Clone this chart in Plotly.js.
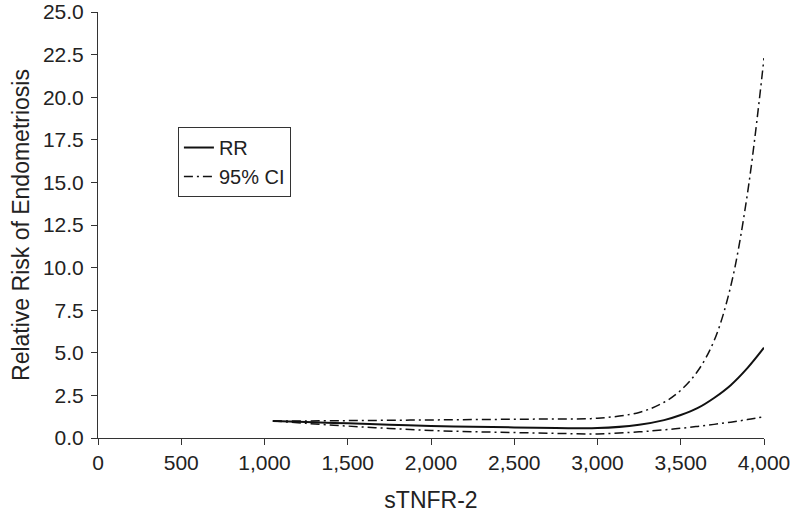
<!DOCTYPE html>
<html>
<head>
<meta charset="utf-8">
<script src="https://cdn.plot.ly/plotly-3.0.1.min.js"></script>
<style>html,body{margin:0;padding:0;background:#fff;}#chart{width:792px;height:518px;}</style>
</head>
<body>
<div id="chart"></div>
<script>
const xVals = [1050, 1250, 1500, 1750, 2000, 2250, 2500, 2750, 3000, 3250, 3400, 3500, 3600, 3700, 3800, 3900, 4000];
const rr    = [1.0, 0.94, 0.86, 0.78, 0.71, 0.66, 0.62, 0.59, 0.58, 0.78, 1.05, 1.35, 1.75, 2.35, 3.1, 4.1, 5.3];
const upper = [1.0, 1.0, 1.02, 1.04, 1.06, 1.08, 1.1, 1.12, 1.16, 1.5, 2.1, 2.8, 3.9, 5.7, 8.9, 14.3, 22.3];
const lower = [1.0, 0.86, 0.70, 0.56, 0.44, 0.37, 0.32, 0.27, 0.24, 0.36, 0.48, 0.57, 0.68, 0.80, 0.93, 1.08, 1.25];
const xTicks = [0, 500, 1000, 1500, 2000, 2500, 3000, 3500, 4000];
const xTickText = ['0', '500', '1,000', '1,500', '2,000', '2,500', '3,000', '3,500', '4,000'];
const yTicks = [0, 2.5, 5, 7.5, 10, 12.5, 15, 17.5, 20, 22.5, 25];
const yTickText = ['0.0', '2.5', '5.0', '7.5', '10.0', '12.5', '15.0', '17.5', '20.0', '22.5', '25.0'];

const ciLine = {color: '#111', width: 1.5, dash: '9px,4px,2px,4px', shape: 'spline', smoothing: 1};
const traces = [
  {x: xVals, y: rr, name: 'RR', mode: 'lines', line: {color: '#111', width: 2, shape: 'spline', smoothing: 1}},
  {x: xVals, y: upper, name: '95% CI', mode: 'lines', line: ciLine},
  {x: xVals, y: lower, name: '95% CI', mode: 'lines', line: ciLine, showlegend: false}
];
const layout = {
  width: 792, height: 518,
  margin: {l: 98, r: 28, t: 12, b: 80},
  paper_bgcolor: '#fff', plot_bgcolor: '#fff',
  font: {family: 'Liberation Sans, Arial, sans-serif', color: '#222', size: 21},
  showlegend: true,
  legend: {x: 0.12, y: 0.73, xanchor: 'left', yanchor: 'top', bgcolor: '#fff', bordercolor: '#333', borderwidth: 1, font: {size: 20}, tracegroupgap: 0},
  xaxis: {
    range: [0, 4000], tickvals: xTicks, ticktext: xTickText,
    showgrid: false, zeroline: false, showline: true, linecolor: '#333', linewidth: 1,
    ticks: 'outside', ticklen: 6, tickcolor: '#333',
    title: {text: 'sTNFR-2', font: {size: 23}, standoff: 18}
  },
  yaxis: {
    range: [0, 25], tickvals: yTicks, ticktext: yTickText,
    showgrid: false, zeroline: false, showline: true, linecolor: '#333', linewidth: 1,
    ticks: 'outside', ticklen: 6, tickcolor: '#333', ticklabelstandoff: 3,
    title: {text: 'Relative Risk of Endometriosis', font: {size: 23}, standoff: 6}
  }
};
Plotly.newPlot('chart', traces, layout, {displayModeBar: false, staticPlot: true});
</script>
</body>
</html>
